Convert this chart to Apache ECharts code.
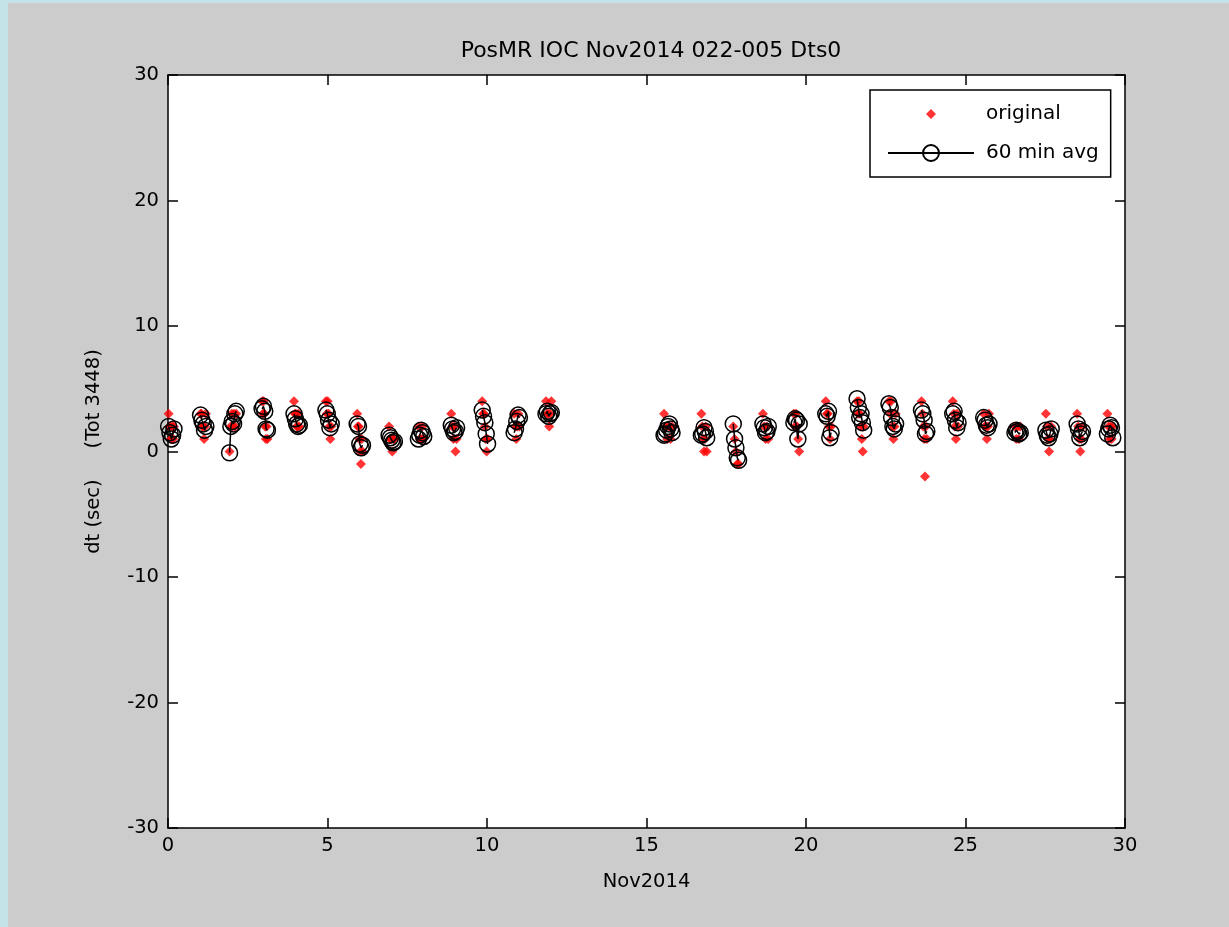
<!DOCTYPE html>
<html>
<head>
<meta charset="utf-8">
<script src="https://cdn.jsdelivr.net/npm/echarts@6/dist/echarts.min.js"></script>
<style>
html,body{margin:0;padding:0;background:#cccccc;}
#chart{width:1229px;height:927px;}
</style>
</head>
<body>
<div id="chart"></div>
<script>
// ---- data (days of Nov 2014, dt in seconds) ----
const xTicks = [0, 5, 10, 15, 20, 25, 30];
const yTicks = [-30, -20, -10, 0, 10, 20, 30];

// start time (day) of each data cluster
const clusterStart = [0.02, 1.02, 1.93, 2.95, 3.95, 4.95, 5.93, 6.93, 7.85, 8.88, 9.85, 10.85, 11.85,
  15.55, 16.72, 17.72, 18.65, 19.62, 20.62, 21.60, 22.60, 23.62, 24.60, 25.57, 26.55, 27.52, 28.50, 29.45];

// 60-min averages, one value per hour from the cluster start
const avgValues = [
  [2.0, 1.5, 1.0, 1.3, 1.8],
  [2.9, 2.5, 2.2, 1.7, 2.0],
  [-0.1, 2.0, 2.4, 2.2, 3.0, 3.2],
  [3.4, 3.6, 3.2, 1.8, 1.7],
  [3.0, 2.6, 2.2, 2.0, 2.1],
  [3.3, 3.0, 2.5, 1.9, 2.2],
  [2.2, 2.0, 0.6, 0.3, 0.5],
  [1.3, 1.1, 0.9, 0.7, 0.8],
  [1.0, 1.3, 1.7, 1.5, 1.2],
  [2.1, 1.8, 1.5, 1.6, 1.9],
  [3.3, 2.8, 2.3, 1.4, 0.6],
  [1.5, 1.8, 2.4, 2.9, 2.7],
  [3.0, 3.2, 2.8, 3.0, 3.1],
  [1.3, 1.4, 1.7, 2.0, 2.2, 1.8, 1.5],
  [1.3, 1.4, 1.9, 1.6, 1.1],
  [2.2, 1.0, 0.3, -0.5, -0.7],
  [2.2, 1.9, 1.5, 1.6, 2.0],
  [2.3, 2.6, 2.5, 1.0, 2.2],
  [3.0, 2.8, 3.2, 1.1, 1.5],
  [4.2, 3.5, 2.7, 3.0, 2.3, 1.7],
  [3.8, 3.5, 2.7, 2.0, 1.8, 2.2],
  [3.3, 3.0, 2.5, 1.4, 1.6],
  [3.0, 3.2, 2.5, 1.9, 2.3],
  [2.7, 2.5, 2.1, 1.9, 2.2],
  [1.5, 1.7, 1.6, 1.4, 1.5],
  [1.7, 1.3, 1.1, 1.4, 1.8],
  [2.2, 1.8, 1.1, 1.4, 1.6],
  [1.4, 1.8, 2.1, 1.9, 1.1]
];

// original samples (integer seconds), spread over the same window
const origValues = [
  [3, 2, 2, 1, 1, 2, 1, 2],
  [3, 3, 2, 2, 1, 2, 3],
  [0, 2, 3, 2, 3, 2, 3],
  [4, 3, 4, 3, 2, 1, 2, 1],
  [4, 3, 3, 2, 2, 3, 2],
  [4, 3, 4, 3, 2, 1, 2],
  [3, 2, 2, 1, 0, -1, 1, 0],
  [2, 1, 1, 0, 1, 1],
  [2, 1, 1, 2, 1],
  [3, 2, 1, 2, 0, 1],
  [4, 3, 3, 2, 1, 0, 1],
  [3, 2, 1, 2, 3, 2],
  [4, 3, 3, 2, 3, 4],
  [3, 2, 1, 2, 1, 2],
  [3, 2, 1, 0, 1, 2, 0],
  [2, 1, 0, -1, -1],
  [3, 2, 1, 2, 1],
  [3, 2, 3, 2, 1, 0],
  [4, 3, 3, 2, 1, 2],
  [4, 3, 4, 3, 2, 1, 0, 2],
  [4, 3, 4, 2, 1, 2, 3],
  [4, 3, 2, 1, -2, 2, 1],
  [4, 3, 2, 1, 3, 2],
  [3, 2, 2, 1, 2, 3],
  [2, 1, 2, 1, 2],
  [3, 2, 1, 0, 1, 2],
  [3, 2, 1, 0, 1, 2],
  [3, 2, 1, 2, 1, 2]
];

// ---- build series data ----
const avgData = [];
const origData = [];
clusterStart.forEach((s, c) => {
  const av = avgValues[c];
  av.forEach((v, i) => avgData.push([s + i / 24, v]));
  avgData.push([s + av.length / 24, '-']); // break line between days
  const ov = origValues[c];
  const span = (av.length - 1) / 24;
  ov.forEach((v, i) => origData.push([s + (ov.length > 1 ? i * span / (ov.length - 1) : 0), v]));
});

const FONT = 'DejaVu Sans, sans-serif';
const FS = 19.5;
const axisCommon = {
  axisLine: { show: true, onZero: false, lineStyle: { color: '#000', width: 1.5 } },
  axisTick: { show: true, inside: true, length: 10, lineStyle: { color: '#000', width: 1.5 } },
  splitLine: { show: false }
};

const chart = echarts.init(document.getElementById('chart'), null, { renderer: 'canvas' });
chart.setOption({
  backgroundColor: '#cccccc',
  animation: false,
  textStyle: { fontFamily: FONT },
  graphic: [
    { type: 'rect', left: 0, top: 0, shape: { width: 8, height: 927 }, style: { fill: '#c3e3e8' }, silent: true },
    { type: 'rect', left: 0, top: 0, shape: { width: 1229, height: 3 }, style: { fill: '#c3e3e8' }, silent: true }
  ],
  title: {
    text: 'PosMR IOC Nov2014 022-005 Dts0',
    left: 646, top: 35, textAlign: 'center',
    textStyle: { fontFamily: FONT, fontSize: 22, fontWeight: 'normal', color: '#000' }
  },
  grid: { left: 168, right: 104, top: 75, bottom: 99, show: true, backgroundColor: '#fff', borderWidth: 0 },
  legend: {
    left: 870, top: 90, orient: 'vertical',
    padding: [14, 12, 14, 17],
    itemWidth: 86, itemHeight: 20, itemGap: 19,
    backgroundColor: '#fff', borderColor: '#000', borderWidth: 1.5,
    textStyle: { fontFamily: FONT, fontSize: 20, color: '#000', padding: [0, 0, 0, 7] },
    data: [
      { name: 'original', icon: 'path://M0,0L0.01,0M86,20L85.99,20M43,5L48,10L43,15L38,10Z' },
      { name: '60 min avg' }
    ]
  },
  xAxis: [
    Object.assign({
      type: 'value', min: 0, max: 30, interval: 5, position: 'bottom',
      name: 'Nov2014', nameLocation: 'middle', nameGap: 44,
      nameTextStyle: { fontFamily: FONT, fontSize: FS, color: '#000' },
      axisLabel: { fontFamily: FONT, fontSize: FS, color: '#000', margin: 8, formatter: v => xTicks.includes(v) ? String(v) : '' }
    }, axisCommon),
    Object.assign({
      type: 'value', min: 0, max: 30, interval: 5, position: 'top', axisLabel: { show: false }
    }, axisCommon)
  ],
  yAxis: [
    Object.assign({
      type: 'value', min: -30, max: 30, interval: 10, position: 'left',
      name: 'dt (sec)     (Tot 3448)', nameLocation: 'middle', nameGap: 64,
      nameTextStyle: { fontFamily: FONT, fontSize: FS, color: '#000' },
      axisLabel: { fontFamily: FONT, fontSize: FS, color: '#000', margin: 9, formatter: v => yTicks.includes(v) ? String(v) : '' }
    }, axisCommon),
    Object.assign({
      type: 'value', min: -30, max: 30, interval: 10, position: 'right', axisLabel: { show: false }
    }, axisCommon)
  ],
  series: [
    {
      name: 'original', type: 'scatter', xAxisIndex: 0, yAxisIndex: 0,
      symbol: 'diamond', symbolSize: 10,
      itemStyle: { color: '#ff0000' },
      data: origData, z: 2
    },
    {
      name: '60 min avg', type: 'line', xAxisIndex: 0, yAxisIndex: 0,
      symbol: 'circle', symbolSize: 16, showAllSymbol: true, connectNulls: false,
      itemStyle: { color: 'rgba(0,0,0,0)', borderColor: '#000', borderWidth: 1.5 },
      lineStyle: { color: '#000', width: 1.5 },
      data: avgData, z: 3
    }
  ]
});
</script>
</body>
</html>
